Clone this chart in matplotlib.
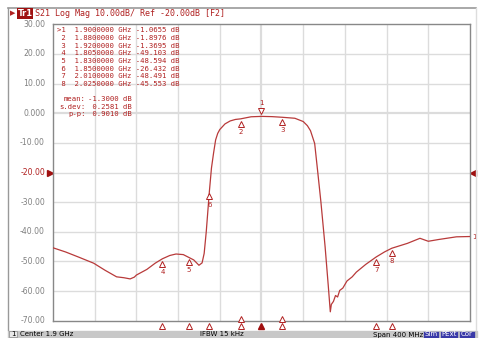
import matplotlib.pyplot as plt
from matplotlib.patches import Rectangle
import matplotlib.transforms as mtransforms

# S21 trace (GHz, dB)
freq_ghz = [1.700, 1.712, 1.725, 1.739, 1.750, 1.761, 1.768, 1.774, 1.778, 1.780,
            1.790, 1.798, 1.805, 1.812, 1.818, 1.825, 1.830, 1.835, 1.840, 1.843,
            1.845, 1.847, 1.850, 1.852, 1.854, 1.856, 1.858, 1.860, 1.865, 1.870,
            1.875, 1.880, 1.890, 1.900, 1.910, 1.920, 1.932, 1.940, 1.944, 1.947,
            1.951, 1.954, 1.957, 1.961, 1.964, 1.966, 1.967, 1.969, 1.971, 1.973,
            1.975, 1.978, 1.982, 1.987, 1.991, 2.000, 2.010, 2.018, 2.025, 2.040,
            2.052, 2.060, 2.070, 2.087, 2.100]
s21_db = [-45.4, -46.8, -48.6, -50.6, -53.0, -55.2, -55.5, -55.9, -55.3, -54.6,
          -52.7, -50.6, -49.1, -48.0, -47.5, -47.7, -48.6, -49.5, -51.3, -50.5,
          -47.3, -40.0, -26.4, -18.5, -13.5, -9.0, -6.8, -5.5, -3.6, -2.6,
          -2.1, -1.9, -1.2, -1.07, -1.15, -1.37, -1.7, -2.8, -4.2, -5.9,
          -10.2, -20.0, -30.0, -45.0, -58.0, -67.0, -64.5, -63.5, -61.5, -62.0,
          -59.8, -59.0, -56.6, -55.2, -53.6, -51.0, -48.5, -46.8, -45.55, -43.9,
          -42.2, -43.2, -42.6, -41.7, -41.6]

marker_ids = ["1", "2", "3", "4", "5", "6", "7", "8"]
marker_freq = [1.900, 1.880, 1.920, 1.805, 1.830, 1.850, 2.010, 2.025]
marker_db = [-1.0655, -1.8976, -1.3695, -49.103, -48.594, -26.432, -48.491, -45.553]

stat_labels = ["mean:", "s.dev:", "p-p:"]
stat_values = ["-1.3000 dB", " 0.2581 dB", " 0.9010 dB"]

y_ticks = [30, 20, 10, 0, -10, -20, -30, -40, -50, -60, -70]
y_tick_labels = ["30.00", "20.00", "10.00", "0.000", "-10.00", "-20.00",
                 "-30.00", "-40.00", "-50.00", "-60.00", "-70.00"]

RED = "#b02020"
TRACE = "#b83a3a"
W, H = 479, 338


def fx(x):
    return x / W


def fy(y):
    return 1 - y / H


fig = plt.figure(figsize=(W / 100, H / 100), dpi=100)
fig.patch.set_facecolor("white")

# outer instrument frame
fig.add_artist(plt.Line2D([fx(8), fx(8)], [fy(8), fy(330)], color="#999999", lw=1))
fig.add_artist(plt.Line2D([fx(8), fx(476)], [fy(7.5), fy(7.5)], color="#999999", lw=1.2))
fig.add_artist(plt.Line2D([fx(476), fx(476)], [fy(8), fy(330)], color="#dddddd", lw=1))

# header
fig.text(fx(10), fy(13.5), "\u25B6", color=RED, fontsize=5, va="center", ha="left")
fig.text(fx(17.5), fy(13.5), "Tr1", color="white", fontsize=6, va="center", ha="left",
         family="DejaVu Sans", weight="bold",
         bbox=dict(boxstyle="square,pad=0.1", fc="#a01010", ec="none"))
fig.text(fx(35), fy(13.5), "S21 Log Mag 10.00dB/ Ref -20.00dB [F2]", color=RED,
         fontsize=6, va="center", ha="left", family="DejaVu Sans Mono")

# plot area
ax = fig.add_axes([fx(53), fy(320.7), fx(417), 296.4 / H])
ax.set_xlim(1.7, 2.1)
ax.set_ylim(-70, 30)
for f in [1.7 + 0.04 * i for i in range(1, 10)]:
    lw = 1.6 if abs(f - 1.9) < 1e-6 else 1.0
    ax.axvline(f, color="#dcdcdc", lw=lw, zorder=0)
for v in y_ticks[1:-1]:
    ax.axhline(v, color="#dcdcdc", lw=1.6 if v == 0 else 1.0, zorder=0)
for s in ax.spines.values():
    s.set_color("#888888")
    s.set_linewidth(1)
ax.set_xticks([])
ax.set_yticks([])

ax.plot(freq_ghz, s21_db, color=TRACE, lw=0.9, zorder=3)

# markers on trace
for mid, f, d in zip(marker_ids, marker_freq, marker_db):
    if mid == "1":
        tr = mtransforms.offset_copy(ax.transData, fig=fig, x=0, y=4, units="points")
        ax.plot(f, d, marker="v", ms=5, mfc="white", mec=RED, mew=0.7, transform=tr, zorder=4)
        ax.annotate(mid, (f, d), xytext=(0, 9.5), textcoords="offset points",
                    ha="center", va="center", color=RED, fontsize=5)
    else:
        tr = mtransforms.offset_copy(ax.transData, fig=fig, x=0, y=-3.5, units="points")
        ax.plot(f, d, marker="^", ms=5, mfc="white", mec=RED, mew=0.7, transform=tr, zorder=4)
        ax.annotate(mid, (f, d), xytext=(0, -9.5), textcoords="offset points",
                    ha="center", va="center", color=RED, fontsize=5)

# trace label at right end
ax.annotate("1", (freq_ghz[-1], s21_db[-1]), xytext=(1.5, 0), textcoords="offset points",
            ha="left", va="center", color=RED, fontsize=5, annotation_clip=False)

# marker table
table_y0 = 30.5
for i, (mid, f, d) in enumerate(zip(marker_ids, marker_freq, marker_db)):
    tag = ">" + mid if mid == "1" else " " + mid
    if d > -10:
        line = f"{tag:>2}  {f:.7f} GHz {d:.4f} dB"
    else:
        line = f"{tag:>2}  {f:.7f} GHz {d:.3f} dB"
    fig.text(fx(57), fy(table_y0 + i * 7.65), line, color=RED, fontsize=5.2,
             family="DejaVu Sans Mono", va="center", ha="left")
for i, (lab, val) in enumerate(zip(stat_labels, stat_values)):
    fig.text(fx(86), fy(99 + i * 7.7), lab, color=RED, fontsize=5.2,
             family="DejaVu Sans Mono", va="center", ha="right")
    fig.text(fx(88), fy(99 + i * 7.7), val, color=RED, fontsize=5.2,
             family="DejaVu Sans Mono", va="center", ha="left")

# y tick labels
for v, lab in zip(y_ticks, y_tick_labels):
    yy = 24.3 + (30 - v) / 10 * 29.64
    col = RED if v == -20 else "#808080"
    fig.text(fx(45), fy(yy), lab, color=col, fontsize=5.6, family="DejaVu Sans",
             va="center", ha="right")

# reference level arrows
ax.plot(1.7, -20, marker=">", ms=5, color="#a01010", clip_on=False,
        transform=mtransforms.offset_copy(ax.transData, fig=fig, x=-1.8, y=0, units="points"))
ax.plot(2.1, -20, marker="<", ms=5, color="#a01010", clip_on=False,
        transform=mtransforms.offset_copy(ax.transData, fig=fig, x=2.4, y=0, units="points"))

# stimulus markers under the grid
for mid, f in zip(marker_ids, marker_freq):
    tr = mtransforms.offset_copy(ax.transData, fig=fig, x=0, y=-3.5, units="points")
    if mid == "1":
        ax.plot(f, -70, marker="^", ms=5, color="#a01010", transform=tr, clip_on=False)
    else:
        ax.plot(f, -70, marker="^", ms=5, mfc="white", mec=RED, mew=0.7,
                transform=tr, clip_on=False)
    if mid in ("2", "3"):
        tr2 = mtransforms.offset_copy(ax.transData, fig=fig, x=0, y=1.2, units="points")
        ax.plot(f, -70, marker="^", ms=5, mfc="white", mec=RED, mew=0.7,
                transform=tr2, clip_on=False, zorder=5)

# status bar
fig.add_artist(Rectangle((fx(8), 0), fx(469), 7.5 / H, color="#c8c8c8", zorder=-1))
fig.add_artist(Rectangle((fx(9), fy(337)), fx(8), 6 / H, fc="#e8e8e8", ec="#888888", lw=0.5))
fig.text(fx(11), fy(334.5), "1", fontsize=5, va="center", ha="left")
fig.text(fx(20), fy(334.5), "Center 1.9 GHz", fontsize=5, va="center", ha="left")
fig.text(fx(200), fy(334.5), "IFBW 15 kHz", fontsize=5, va="center", ha="left")
fig.text(fx(373), fy(334.5), "Span 400 MHz", fontsize=5, va="center", ha="left")
for x0, w, lab in [(423, 16, "Sim"), (440, 18, "PExt"), (459, 16, "Cor")]:
    fig.add_artist(Rectangle((fx(x0), 0), fx(w), 7.5 / H, fc="#3a3aa8", ec="#c8c8c8", lw=0.5))
    fig.text(fx(x0 + w / 2), fy(334.5), lab, fontsize=5, color="white",
             va="center", ha="center")

fig.savefig("out.png", dpi=100)
